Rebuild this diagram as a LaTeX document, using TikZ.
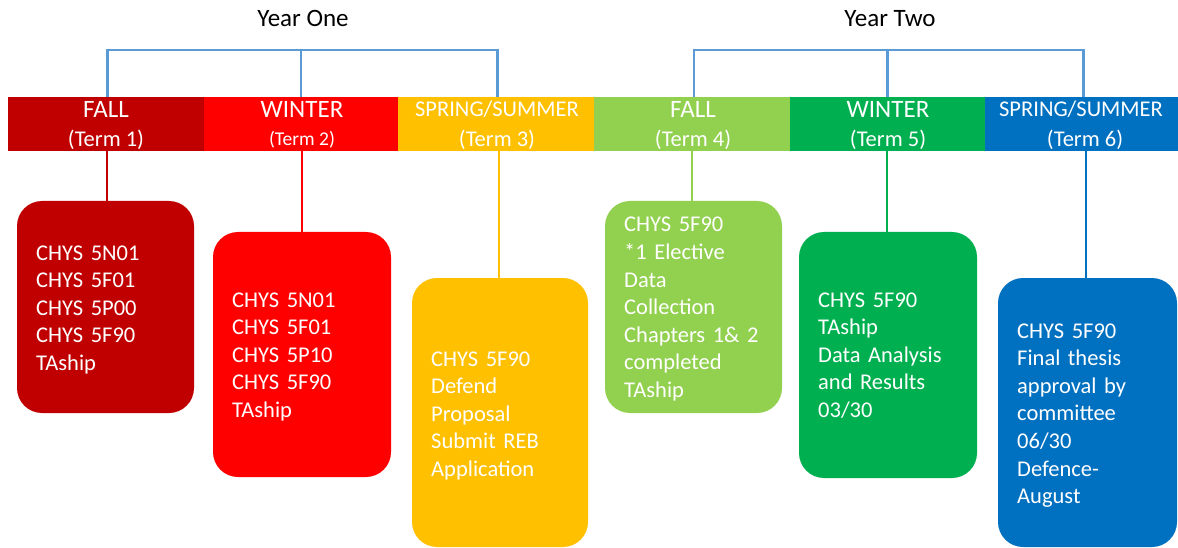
\documentclass[tikz,border=0pt]{standalone}
\usepackage{fontspec}
\setmainfont{Carlito}
\definecolor{cA}{HTML}{C00000}
\definecolor{cB}{HTML}{FF0000}
\definecolor{cC}{HTML}{FFC000}
\definecolor{cD}{HTML}{92D050}
\definecolor{cE}{HTML}{00B050}
\definecolor{cF}{HTML}{0070C0}
\definecolor{brk}{HTML}{5B9BD5}
\begin{document}
\begin{tikzpicture}[x=1pt,y=-1pt,
  seg/.style={rectangle, inner sep=0pt, minimum height=54pt, draw=none},
  box/.style={rectangle, rounded corners=25pt, inner sep=0pt, draw=none},
  txt/.style={anchor=base west, inner sep=0pt, text width=150pt, align=left, text=white,
              font=\fontsize{22.5}{27.6}\selectfont},
  hbig/.style={anchor=base, inner sep=0pt, text=white, font=\fontsize{25}{28}\selectfont},
  hsmall/.style={anchor=base, inner sep=0pt, text=white, font=\fontsize{22.5}{26}\selectfont},
  year/.style={anchor=base, inner sep=0pt, text=black, font=\fontsize{25}{28}\selectfont},
  bracket/.style={draw=brk, line width=2.6pt},
  conn/.style={line width=2.4pt}]
\useasboundingbox (0,0) rectangle (1178,548);

% band segments
\node[seg, fill=cA, minimum width=196.5pt] (s1) at (106,124) {};
\node[seg, fill=cB, minimum width=194.5pt] (s2) at (301,124) {};
\node[seg, fill=cC, minimum width=196.5pt] (s3) at (496,124) {};
\node[seg, fill=cD, minimum width=196.5pt] (s4) at (692,124) {};
\node[seg, fill=cE, minimum width=195.5pt] (s5) at (887.5,124) {};
\node[seg, fill=cF, minimum width=193.5pt] (s6) at (1081.5,124) {};

% band labels
\node[hbig] (h1a) at (106,118) {FALL};
\node[hsmall] (h1b) at (106,147) {(Term 1)};
\node[hbig] (h2a) at (302,118) {WINTER};
\node[hsmall, font=\fontsize{19.5}{22}\selectfont] (h2b) at (302,146) {(Term 2)};
\node[hsmall] (h3a) at (497,117) {SPRING/SUMMER};
\node[hsmall] (h3b) at (497,147) {(Term 3)};
\node[hbig] (h4a) at (693,118) {FALL};
\node[hsmall] (h4b) at (693,147) {(Term 4)};
\node[hbig] (h5a) at (888,118) {WINTER};
\node[hsmall] (h5b) at (888,147) {(Term 5)};
\node[hsmall] (h6a) at (1081,117) {SPRING/SUMMER};
\node[hsmall] (h6b) at (1085,147) {(Term 6)};

% year labels and brackets
\node[year] (yr1) at (303,27) {Year One};
\node[year] (yr2) at (890,27) {Year Two};
\coordinate (top1) at (107.5,50);
\coordinate (top2) at (694,50);
\coordinate (end1) at (497.5,97);
\coordinate (end2) at (1083.5,97);
\draw[bracket] (s1.north -| top1) -- (top1) -| (end1);
\draw[bracket] (s2.north) -- (s2.north |- top1);
\draw[bracket] (s4.north -| top2) -- (top2) -| (end2);
\draw[bracket] (s5.north) -- (s5.north |- top2);

% boxes
\node[box, fill=cA, minimum width=177pt, minimum height=212pt] (b1) at (105.5,307) {};
\node[box, fill=cB, minimum width=178pt, minimum height=245pt] (b2) at (302,354.5) {};
\node[box, fill=cC, minimum width=176pt, minimum height=269pt] (b3) at (500,412.5) {};
\node[box, fill=cD, minimum width=177pt, minimum height=212pt] (b4) at (693.5,307) {};
\node[box, fill=cE, minimum width=178pt, minimum height=246pt] (b5) at (888,355) {};
\node[box, fill=cF, minimum width=179pt, minimum height=269pt] (b6) at (1087.5,412.5) {};

% connectors
\draw[conn, cA] (b1.north -| 107,0) -- (s1.south -| 107,0);
\draw[conn, cB] (b2.north) -- (b2.north |- s2.south);
\draw[conn, cC] (b3.north -| 499,0) -- (s3.south -| 499,0);
\draw[conn, cD] (b4.north -| 692,0) -- (s4.south -| 692,0);
\draw[conn, cE] (b5.north -| 887,0) -- (s5.south -| 887,0);
\draw[conn, cF] (b6.north -| 1086,0) -- (s6.south -| 1086,0);

% box texts
\node[txt] (t1) at (36,260) {CHYS 5N01\\CHYS 5F01\\CHYS 5P00\\CHYS 5F90\\TAship};
\node[txt] (t2) at (232,307) {CHYS 5N01\\CHYS 5F01\\CHYS 5P10\\CHYS 5F90\\TAship};
\node[txt] (t3) at (431,366) {CHYS 5F90\\Defend\\Proposal\\Submit REB\\Application};
\node[txt] (t4) at (624,232) {CHYS 5F90\\\relax *1 Elective\\Data\\Collection\\Chapters 1\& 2\\completed\\TAship};
\node[txt] (t5) at (818,307) {CHYS 5F90\\TAship\\Data Analysis\\and Results\\03/30};
\node[txt] (t6) at (1017,338) {CHYS 5F90\\Final thesis\\approval by\\committee\\06/30\\Defence-\\August};
\end{tikzpicture}
\end{document}
